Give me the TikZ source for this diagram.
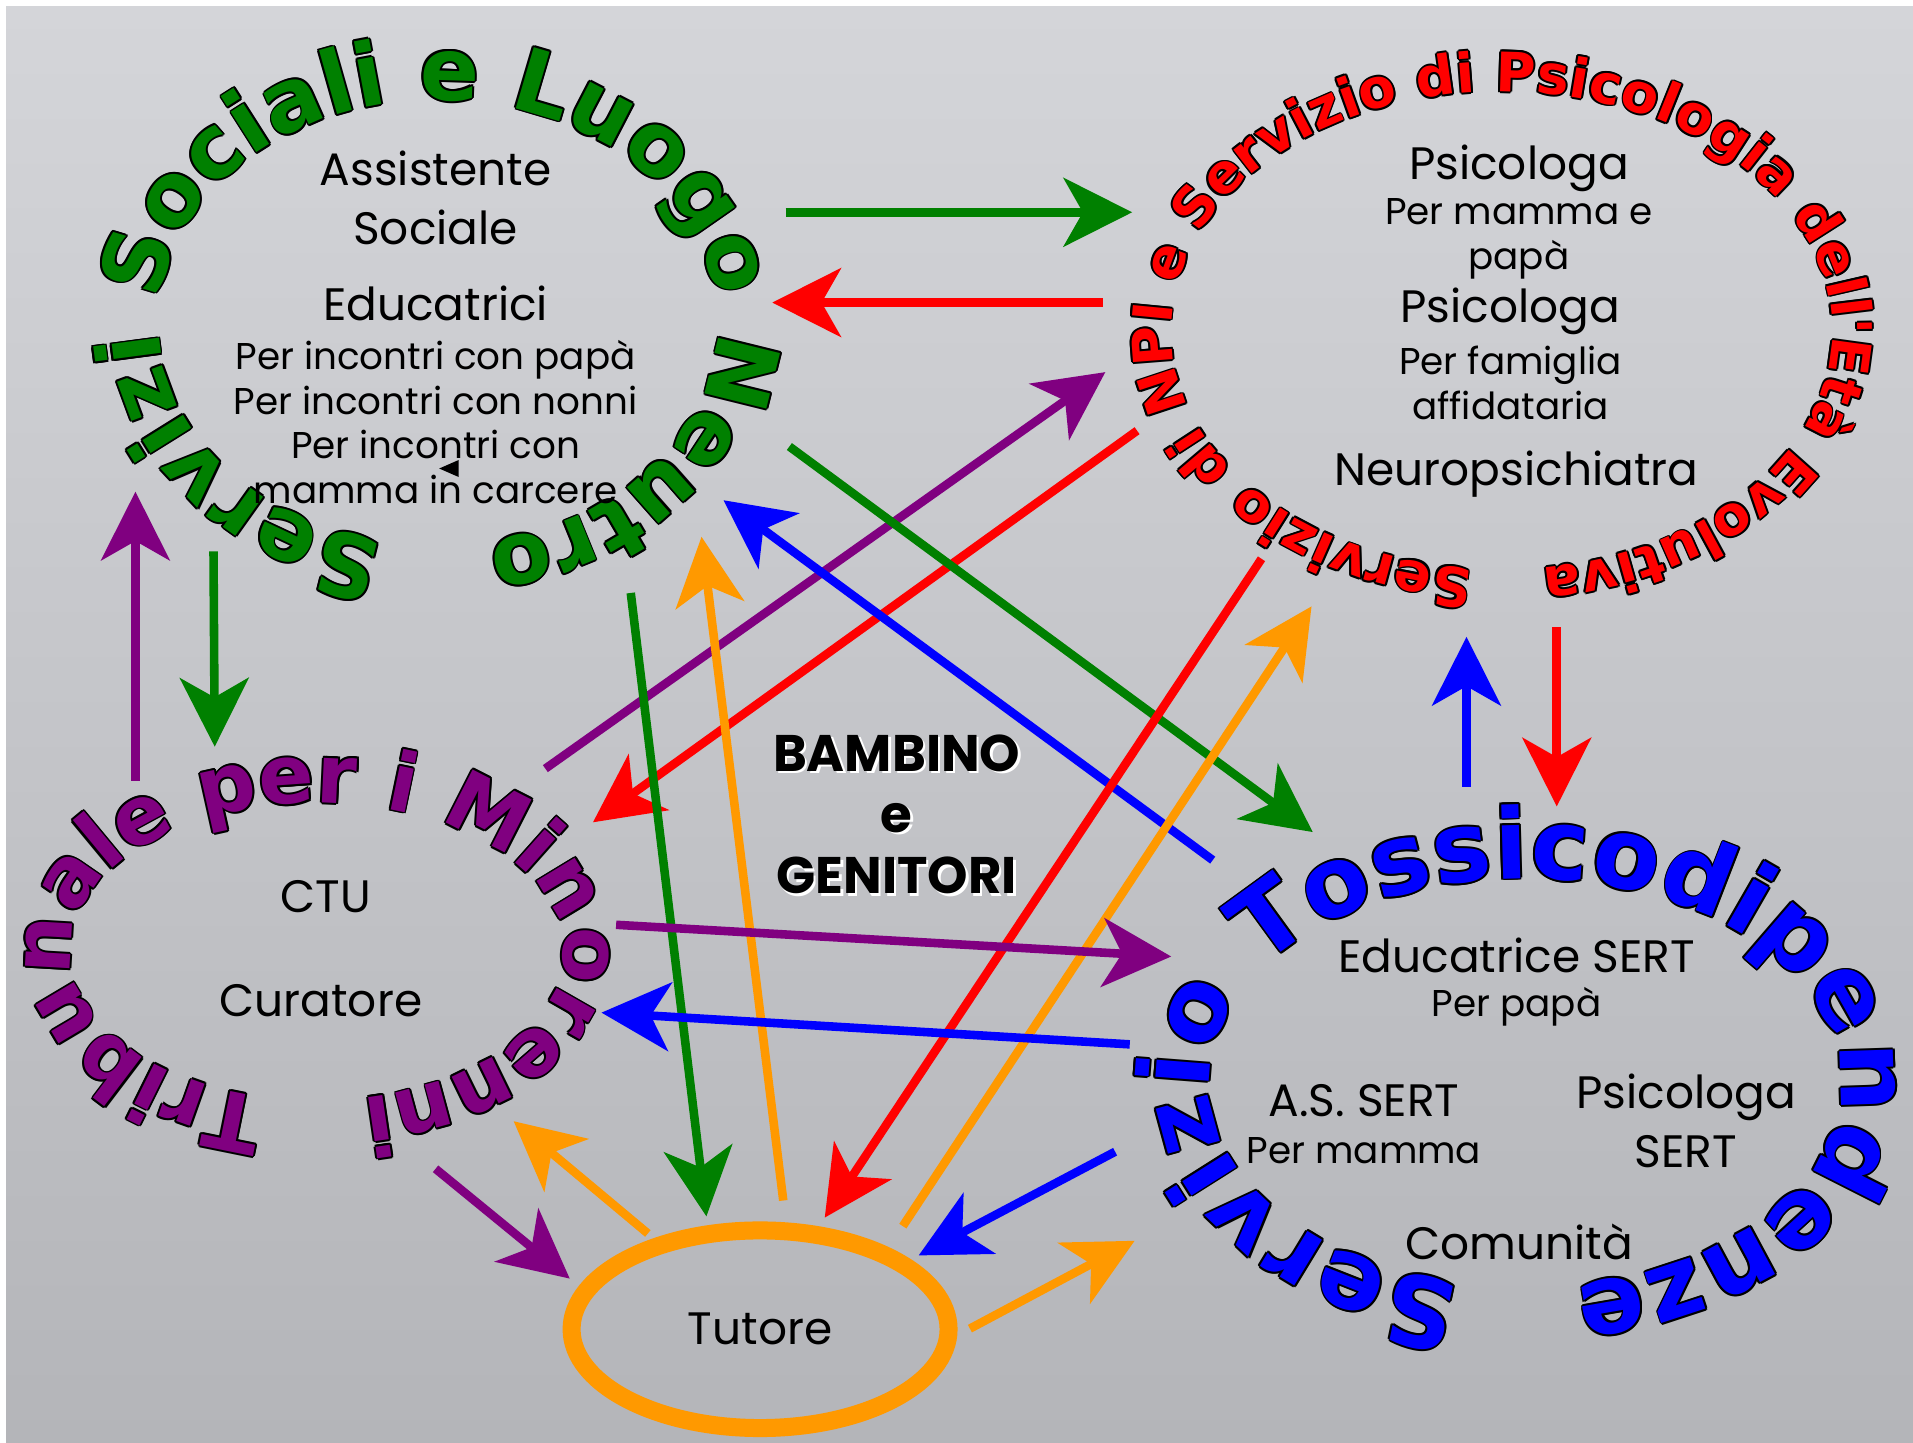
\documentclass[tikz,border=0pt]{standalone}
\usepackage{fontspec}
\setmainfont{Poppins}
\newfontfamily\arcfont{DejaVu Sans}
\usepackage[copies]{contour}
\contourlength{0.45pt}
\contournumber{8}
\usetikzlibrary{arrows.meta, decorations.text, shapes.geometric}

\definecolor{sgreen}{RGB}{0,128,0}
\definecolor{sred}{RGB}{255,0,0}
\definecolor{sblue}{RGB}{0,0,255}
\definecolor{spurple}{RGB}{128,0,128}
\definecolor{sorange}{RGB}{255,153,0}
\definecolor{bgtop}{RGB}{212,213,217}
\definecolor{bgbot}{RGB}{180,181,185}

\newcommand\outl[1]{\contour{black}{#1}}

\tikzset{
  link/.style={line width=2pt, -{Stealth[length=16pt, width=16pt, inset=4.5pt]}},
  ringtext/.style n args={3}{decorate, decoration={text effects along path,
      text={#1}, text effects/.cd, text along path, fit text to path,
      every character/.append style={font=\arcfont\bfseries\fontsize{#2}{#2}\selectfont, text=#3},
      character command=\outl}},
  bigtxt/.style={font=\fontsize{10.6pt}{13.7pt}\selectfont, align=center},
  smalltxt/.style={font=\fontsize{8.7pt}{10.4pt}\selectfont, align=center},
  kidtxt/.style={font=\bfseries\fontsize{12pt}{14.3pt}\selectfont, align=center},
}

\begin{document}
\begin{tikzpicture}
        \useasboundingbox (0,0) rectangle (15.68,11.82);

        % Background
        \fill[white] (0,0) rectangle (15.68,11.82);
        \shade[top color=bgtop, bottom color=bgbot] (0.05,0) rectangle (15.68,11.77);

        % Centres of the rings
        \coordinate (GC) at (3.59,9.175);
        \coordinate (RC) at (12.31,9.11);
        \coordinate (PC) at (2.60,4.02);
        \coordinate (BC) at (12.50,2.945);

        % Arrow ends
        \coordinate (G1a) at (6.44,10.08);  \coordinate (G1b) at (9.28,10.08);
        \coordinate (R1a) at (9.04,9.34);   \coordinate (R1b) at (6.33,9.34);
        \coordinate (P1a) at (4.47,5.52);   \coordinate (P1b) at (9.06,8.77);
        \coordinate (R2a) at (9.32,8.29);   \coordinate (R2b) at (4.86,5.08);
        \coordinate (G2a) at (6.47,8.16);   \coordinate (G2b) at (10.76,5.00);
        \coordinate (B1a) at (9.94,4.77);   \coordinate (B1b) at (5.93,7.72);
        \coordinate (G3a) at (5.17,6.96);   \coordinate (G3b) at (5.79,1.85);
        \coordinate (O1a) at (6.42,1.98);   \coordinate (O1b) at (5.75,7.42);
        \coordinate (R3a) at (10.34,7.24);  \coordinate (R3b) at (6.76,1.84);
        \coordinate (O2a) at (7.40,1.77);   \coordinate (O2b) at (10.75,6.85);
        \coordinate (B2a) at (12.02,5.37);  \coordinate (B2b) at (12.02,6.60);
        \coordinate (R4a) at (12.76,6.68);  \coordinate (R4b) at (12.76,5.21);
        \coordinate (P2a) at (5.05,4.24);   \coordinate (P2b) at (9.60,3.98);
        \coordinate (B3a) at (9.26,3.26);   \coordinate (B3b) at (4.93,3.52);
        \coordinate (B4a) at (9.14,2.38);   \coordinate (B4b) at (7.53,1.53);
        \coordinate (O3a) at (7.95,0.93);   \coordinate (O3b) at (9.30,1.65);
        \coordinate (O4a) at (5.31,1.71);   \coordinate (O4b) at (4.21,2.63);
        \coordinate (P3a) at (3.57,2.24);   \coordinate (P3b) at (4.67,1.34);
        \coordinate (P4a) at (1.11,5.42);   \coordinate (P4b) at (1.11,7.79);
        \coordinate (G4a) at (1.75,7.30);   \coordinate (G4b) at (1.76,5.70);

        % Draw the arrows
        \draw[link, sgreen] (G1a) -- (G1b);
        \draw[link, sred] (R1a) -- (R1b);
        \draw[link, spurple] (P1a) -- (P1b);
        \draw[link, sred] (R2a) -- (R2b);
        \draw[link, sgreen] (G2a) -- (G2b);
        \draw[link, sblue] (B1a) -- (B1b);
        \draw[link, sgreen] (G3a) -- (G3b);
        \draw[link, sorange] (O1a) -- (O1b);
        \draw[link, sred] (R3a) -- (R3b);
        \draw[link, sorange] (O2a) -- (O2b);
        \draw[link, sblue] (B2a) -- (B2b);
        \draw[link, sred] (R4a) -- (R4b);
        \draw[link, spurple] (P2a) -- (P2b);
        \draw[link, sblue] (B3a) -- (B3b);
        \draw[link, sblue] (B4a) -- (B4b);
        \draw[link, sorange] (O3a) -- (O3b);
        \draw[link, sorange] (O4a) -- (O4b);
        \draw[link, spurple] (P3a) -- (P3b);
        \draw[link, spurple] (P4a) -- (P4b);
        \draw[link, sgreen] (G4a) -- (G4b);

        % Ring texts
        \path[ringtext={Servizi Sociali e Luogo Neutro}{20.4pt}{sgreen}]
            ([shift={(259:2.29 and 1.825)}]GC) arc[start angle=259, end angle=-80, x radius=2.29, y radius=1.825];
        \path[ringtext={Servizio di NPI e Servizio di Psicologia dell'Età Evolutiva}{12.7pt}{sred}]
            ([shift={(265:2.71 and 1.96)}]RC) arc[start angle=265, end angle=-83, x radius=2.71, y radius=1.96];
        \path[ringtext={Tribunale per i Minorenni}{19pt}{spurple}]
            ([shift={(258:2.02 and 1.22)}]PC) arc[start angle=258, end angle=-79.5, x radius=2.02, y radius=1.22];
        \path[ringtext={Servizio Tossicodipendenze}{22.8pt}{sblue}]
            ([shift={(258.5:2.59 and 1.675)}]BC) arc[start angle=258.5, end angle=-81, x radius=2.59, y radius=1.675];

        % Servizi Sociali
        \node[bigtxt] (assist) at (3.57,10.20) {Assistente\\Sociale};
        \node[bigtxt] (educ) at (3.57,9.33) {Educatrici};
        \node[smalltxt] (incontri) at (3.57,8.36) {Per incontri con papà\\Per incontri con nonni\\Per incontri con\\mamma in carcere};
        \fill (3.60,7.98) -- (3.76,8.05) -- (3.76,7.91) -- cycle;

        % NPI
        \node[bigtxt] (psi1) at (12.45,10.44) {Psicologa};
        \node[smalltxt] (psi1per) at (12.45,9.86) {Per mamma e\\papà};
        \node[bigtxt] (psi2) at (12.38,9.27) {Psicologa};
        \node[smalltxt] (psi2per) at (12.38,8.68) {Per famiglia\\affidataria};
        \node[bigtxt] (neuro) at (12.43,7.93) {Neuropsichiatra};

        % SERT
        \node[bigtxt] (edusert) at (12.43,3.99) {Educatrice SERT};
        \node[smalltxt] (edusertper) at (12.43,3.57) {Per papà};
        \node[bigtxt] (assert) at (11.18,2.80) {A.S. SERT};
        \node[smalltxt] (assertper) at (11.18,2.39) {Per mamma};
        \node[bigtxt] (psisert) at (13.82,2.63) {Psicologa\\SERT};
        \node[bigtxt] (comun) at (12.45,1.64) {Comunità};

        % Tribunale
        \node[bigtxt] (ctu) at (2.67,4.47) {CTU};
        \node[bigtxt] (curat) at (2.63,3.62) {Curatore};

        % Bambino e genitori
        \node[kidtxt, text=white] (kidshadow) at (7.37,5.125) {BAMBINO\\e\\GENITORI};
        \node[kidtxt] (kid) at (7.35,5.145) {BAMBINO\\e\\GENITORI};

        % Tutore
        \node[draw=sorange, line width=4.2pt, ellipse, minimum width=3.09cm, minimum height=1.62cm,
              font=\fontsize{10.6pt}{12pt}\selectfont] (tutore) at (6.23,0.925) {Tutore};
\end{tikzpicture}
\end{document}
